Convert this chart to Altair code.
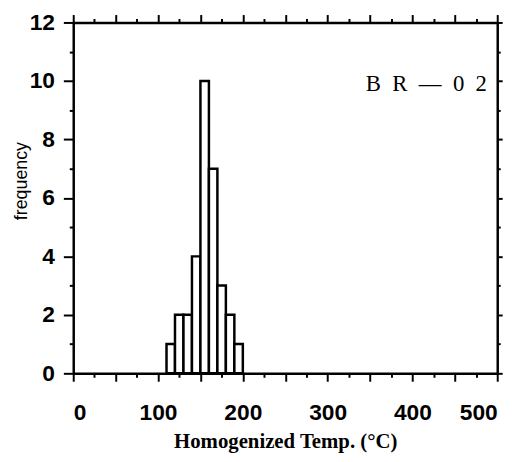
import altair as alt
import pandas as pd

# Histogram bins (Homogenized Temp., degC) and frequencies
bin_start = [110, 120, 130, 140, 150, 160, 170, 180, 190]
bin_end = [120, 130, 140, 150, 160, 170, 180, 190, 200]
counts = [1, 2, 2, 4, 10, 7, 3, 2, 1]

x_tick_values = list(range(0, 501, 25))
y_tick_values = list(range(0, 13))
sample_label = ["B\u2002R\u2002\u2014\u20020\u20022"]

df = pd.DataFrame({"start": bin_start, "end": bin_end, "count": counts})

xscale = alt.Scale(domain=[0, 500], nice=False, zero=False)
yscale = alt.Scale(domain=[0, 12], nice=False)


def cond_size(step, big, small):
    return {"condition": {"test": f"datum.value % {step} === 0", "value": big}, "value": small}


bottom_x = alt.Axis(
    orient="bottom", values=x_tick_values,
    labelExpr="datum.value % 100 === 0 ? datum.label : ''",
    tickSize=cond_size(50, 8, 4), labelPadding=21,
    title="Homogenized Temp. (\u00b0C)", titleFont="Liberation Serif",
    titleFontSize=21, titleFontWeight="bold",
    titleY=69, titleBaseline="middle",
)
left_y = alt.Axis(
    orient="left", values=y_tick_values,
    labelExpr="datum.value % 2 === 0 ? datum.label : ''",
    tickSize=cond_size(2, 10, 4), labelPadding=9,
    title="frequency", titleFont="Liberation Sans", titleFontSize=18,
    titleFontWeight="normal", titleX=-47, titleY=160,
    titleBaseline="alphabetic",
)
top_x = alt.Axis(orient="top", values=x_tick_values, labels=False,
                 tickSize=cond_size(50, 8, 4), title=None)
right_y = alt.Axis(orient="right", values=y_tick_values, labels=False,
                   tickSize=cond_size(2, 5, 3), title=None)

bars = alt.Chart(df).mark_bar(
    fill="white", stroke="black", strokeWidth=2.5
).encode(
    x=alt.X("start:Q", scale=xscale, axis=bottom_x),
    x2="end:Q",
    y=alt.Y("count:Q", scale=yscale, axis=left_y),
    y2=alt.datum(0),
)

frame = alt.Chart(df).mark_bar(opacity=0).encode(
    x=alt.X("start:Q", scale=xscale, axis=top_x),
    x2="end:Q",
    y=alt.Y("count:Q", scale=yscale, axis=right_y),
    y2=alt.datum(0),
)

label = alt.Chart(pd.DataFrame({"t": sample_label})).mark_text(
    font="Liberation Serif", fontSize=23, align="left", baseline="middle", color="black"
).encode(
    text="t:N", x=alt.value(296), y=alt.value(62),
)

chart = alt.layer(bars, frame, label).resolve_axis(
    x="independent", y="independent"
).properties(
    width=429, height=355,
    autosize=alt.AutoSizeParams(type="none"),
    padding={"left": 66, "top": 12, "right": 20, "bottom": 79},
).configure_view(stroke=None).configure_axis(
    grid=False, domainColor="black", domainWidth=2.5, tickColor="black",
    tickWidth=2, labelFont="Liberation Sans", labelFontWeight="bold",
    labelFontSize=23, labelColor="black", titleColor="black",
)

chart.save("out.html", embed_options={"renderer": "svg", "actions": False})
